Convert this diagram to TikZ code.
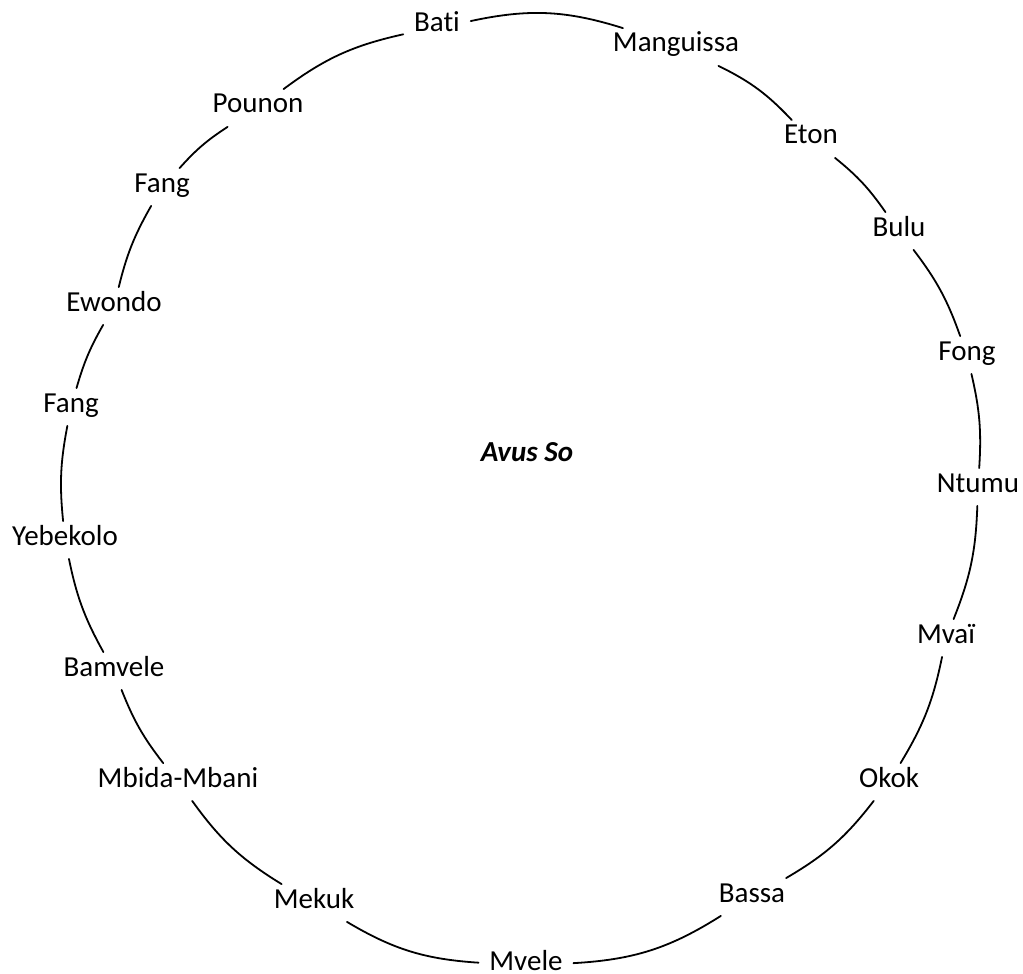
\documentclass[tikz,border=0pt]{standalone}
\usepackage{fontspec}
\setmainfont{Carlito}[Ligatures=NoCommon]
\begin{document}
\begin{tikzpicture}[line join=round, line cap=round, x=0.5pt, y=-0.5pt, line width=0.9pt]
	\tikzset{every node/.style={font=\fontsize{14.5}{17}\selectfont, inner sep=5pt, text height=0.65em, text depth=0.15em, anchor=base}}
	\useasboundingbox (0,0) rectangle (1023,974);
	% peoples round the ring
	\foreach \n/\x/\y/\lbl in {bati/437/32/Bati, mang/676/52/Manguissa, eton/811/144/Eton, bulu/899/236/Bulu,
		fong/967/360/Fong, ntumu/978/492/Ntumu, mvai/946/643/Mvaï, okok/889/787/Okok, bassa/752/902/Bassa,
		mvele/526/970/Mvele, mekuk/314/908/Mekuk, mbida/178/787/Mbida-Mbani, bamvele/114/676/Bamvele,
		yebek/65/545/Yebekolo, fangA/71/412/Fang, ewondo/114/311/Ewondo, fangB/162/192/Fang, pounon/258/113/Pounon}
	\node (\n) at (\x,\y) {\lbl};
	\node[font=\fontsize{14.5}{17}\selectfont\bfseries\itshape] (avus) at (527,461) {Avus So};
	% arcs
	\foreach \a/\b/\bnd in {bati/mang/14.8, mang/eton/10.3, eton/bulu/8.1, bulu/fong/8.9, fong/ntumu/8.4,
		ntumu/mvai/9.9, mvai/okok/9.8, okok/bassa/11, bassa/mvele/14.5, mvele/mekuk/13.5, mekuk/mbida/11.4,
		mbida/bamvele/8.1, bamvele/yebek/8.7, yebek/fangA/8.3, fangA/ewondo/6.8, ewondo/fangB/7.9,
		fangB/pounon/7.6, pounon/bati/12.1}
	\draw (\a) to[bend left=\bnd] (\b);
\end{tikzpicture}
\end{document}
